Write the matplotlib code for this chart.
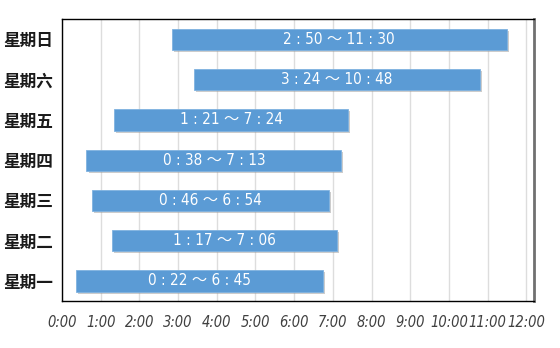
import matplotlib
matplotlib.use("Agg")
import matplotlib.pyplot as plt
import matplotlib.patheffects as pe

# ── Data ─────────────────────────────────────────────
days = ["星期一", "星期二", "星期三", "星期四", "星期五", "星期六", "星期日"]
start_times = ["0:22", "1:17", "0:46", "0:38", "1:21", "3:24", "2:50"]
end_times = ["6:45", "7:06", "6:54", "7:13", "7:24", "10:48", "11:30"]
hour_ticks = list(range(0, 13))


def to_hours(t):
    h, m = t.split(":")
    return int(h) + int(m) / 60


starts = [to_hours(t) for t in start_times]
ends = [to_hours(t) for t in end_times]
widths = [e - s for s, e in zip(starts, ends)]

fig = plt.figure(figsize=(5.6, 3.48), dpi=100)
ax = fig.add_axes([0.1107, 0.135, 0.8429, 0.8095])

# ── Bars with a soft drop shadow ─────────────────────
bar_color = "#5B9BD5"
shadow = [pe.SimplePatchShadow(offset=(1.5, -1.5), shadow_rgbFace="#9a9a9a", alpha=0.5), pe.Normal()]
bars = ax.barh(range(len(days)), widths, left=starts, height=0.53,
               color=bar_color, edgecolor="#7FB2E0", linewidth=0.6, zorder=3)
for b in bars:
    b.set_path_effects(shadow)

# ── Range labels inside the bars ─────────────────────
for i, (s, e, st, et) in enumerate(zip(starts, ends, start_times, end_times)):
    sh, sm = st.split(":")
    eh, em = et.split(":")
    txt = f"{sh} : {sm} ～ {eh} : {em}"
    ax.text((s + e) / 2, i, txt, ha="center", va="center", color="white",
            fontsize=11, family=["DejaVu Sans", "Noto Sans CJK SC"],
            stretch="condensed", zorder=4)

# ── Axes styling ─────────────────────────────────────
ax.set_xlim(0, 12.2)
ax.set_ylim(-0.5, len(days) - 0.5)
ax.set_yticks(range(len(days)))
ax.set_yticklabels(days, fontsize=12, fontweight="bold",
                   family=["Noto Sans CJK SC", "DejaVu Sans"], color="#1a1a1a")
ax.set_xticks(hour_ticks)
ax.set_xticklabels([f"{h}:00" for h in hour_ticks], fontsize=10.5, style="italic",
                   family="DejaVu Sans", stretch="condensed", color="#404040")
ax.tick_params(axis="both", length=0)
ax.tick_params(axis="x", pad=10)
ax.tick_params(axis="y", pad=6)

ax.grid(axis="x", color="#DDDDDD", linewidth=1, zorder=0)
ax.set_axisbelow(True)
for side in ["left", "bottom", "top"]:
    ax.spines[side].set_color("black")
    ax.spines[side].set_linewidth(1)
ax.spines["right"].set_color("#707070")
ax.spines["right"].set_linewidth(2)

plt.savefig("out.png", dpi=100)
plt.close()
